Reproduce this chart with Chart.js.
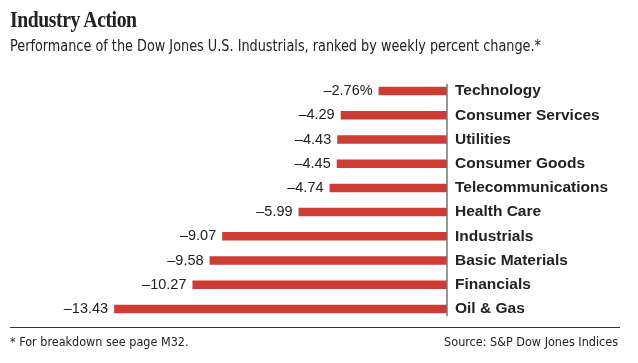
<!DOCTYPE html>
<html>
<head>
<meta charset="utf-8">
<script src="https://cdn.jsdelivr.net/npm/chart.js@4/dist/chart.umd.min.js"></script>
<style>
  html, body { margin: 0; padding: 0; background: #fff; }
  #wrap { position: relative; width: 638px; height: 363px; overflow: hidden; }
  #chart { position: absolute; left: 0; top: 0; }
  .t { position: absolute; color: #222; white-space: nowrap; }
  #title { left: 10px; top: 6px; font: bold 24px "Liberation Serif", serif; letter-spacing: -0.5px; transform-origin: left top; }
  #sub { left: 10px; top: 37px; font: 15px "DejaVu Sans Condensed", sans-serif; transform: scaleX(0.952); transform-origin: left top; }
  #rule { position: absolute; left: 10px; width: 610px; top: 327px; height: 0; border-top: 1.5px solid #333; }
  #note { left: 10px; top: 334px; font: 12.5px "DejaVu Sans Condensed", sans-serif; }
  #src { right: 20px; top: 334px; font: 12.5px "DejaVu Sans Condensed", sans-serif; }
</style>
</head>
<body>
<div id="wrap">
  <canvas id="chart" width="638" height="363"></canvas>
  <div class="t" id="title">Industry Action</div>
  <div class="t" id="sub">Performance of the Dow Jones U.S. Industrials, ranked by weekly percent change.*</div>
  <div id="rule"></div>
  <div class="t" id="note">* For breakdown see page M32.</div>
  <div class="t" id="src">Source: S&amp;P Dow Jones Indices</div>
</div>
<script>
// titulo condensado al ancho del original
const titleEl = document.getElementById("title");
titleEl.style.transform = "scaleX(" + (127 / titleEl.offsetWidth) + ")";

// sectores y cambio semanal (%)
const sectors = ["Technology", "Consumer Services", "Utilities", "Consumer Goods", "Telecommunications",
  "Health Care", "Industrials", "Basic Materials", "Financials", "Oil & Gas"];
const weeklyChange = [-2.76, -4.29, -4.43, -4.45, -4.74, -5.99, -9.07, -9.58, -10.27, -13.43];
const valueLabels = ["–2.76%", "–4.29", "–4.43", "–4.45", "–4.74", "–5.99", "–9.07", "–9.58", "–10.27", "–13.43"];

// etiquetas de valor a la izquierda de cada barra
const valueLabelPlugin = {
  id: "valueLabels",
  afterDatasetsDraw(chart) {
    const ctx = chart.ctx;
    const meta = chart.getDatasetMeta(0);
    ctx.save();
    ctx.font = "14.5px 'Liberation Sans', Arial, sans-serif";
    ctx.fillStyle = "#222";
    ctx.textAlign = "right";
    ctx.textBaseline = "middle";
    meta.data.forEach((bar, i) => {
      ctx.fillText(valueLabels[i], bar.x - 6, bar.y);
    });
    ctx.restore();
  }
};

// linea del cero
const zeroLinePlugin = {
  id: "zeroLine",
  afterDatasetsDraw(chart) {
    const ctx = chart.ctx;
    const x0 = chart.scales.x.getPixelForValue(0);
    const meta = chart.getDatasetMeta(0);
    const first = meta.data[0], last = meta.data[meta.data.length - 1];
    ctx.save();
    ctx.strokeStyle = "#777";
    ctx.lineWidth = 1.5;
    ctx.beginPath();
    ctx.moveTo(x0, first.y - first.height / 2 - 3);
    ctx.lineTo(x0, last.y + last.height / 2 + 3);
    ctx.stroke();
    ctx.restore();
  }
};

new Chart(document.getElementById("chart").getContext("2d"), {
  type: "bar",
  data: {
    labels: sectors,
    datasets: [{
      data: weeklyChange,
      backgroundColor: "#cd3d36",
      borderWidth: 0,
      categoryPercentage: 1,
      barPercentage: 0.35
    }]
  },
  options: {
    indexAxis: "y",
    responsive: false,
    animation: false,
    events: [],
    layout: { padding: { left: 100, top: 79, bottom: 42, right: 0 } },
    scales: {
      x: { display: false, min: -14, max: 0 },
      y: {
        position: "right",
        grid: { display: false, drawTicks: false },
        border: { display: false },
        afterFit(scale) { scale.width = 191; },
        ticks: {
          padding: 8,
          color: "#222",
          font: { family: "'Liberation Sans', Arial, sans-serif", size: 15.5, weight: "bold" }
        }
      }
    },
    plugins: {
      legend: { display: false },
      tooltip: { enabled: false }
    }
  },
  plugins: [valueLabelPlugin, zeroLinePlugin]
});
</script>
</body>
</html>
